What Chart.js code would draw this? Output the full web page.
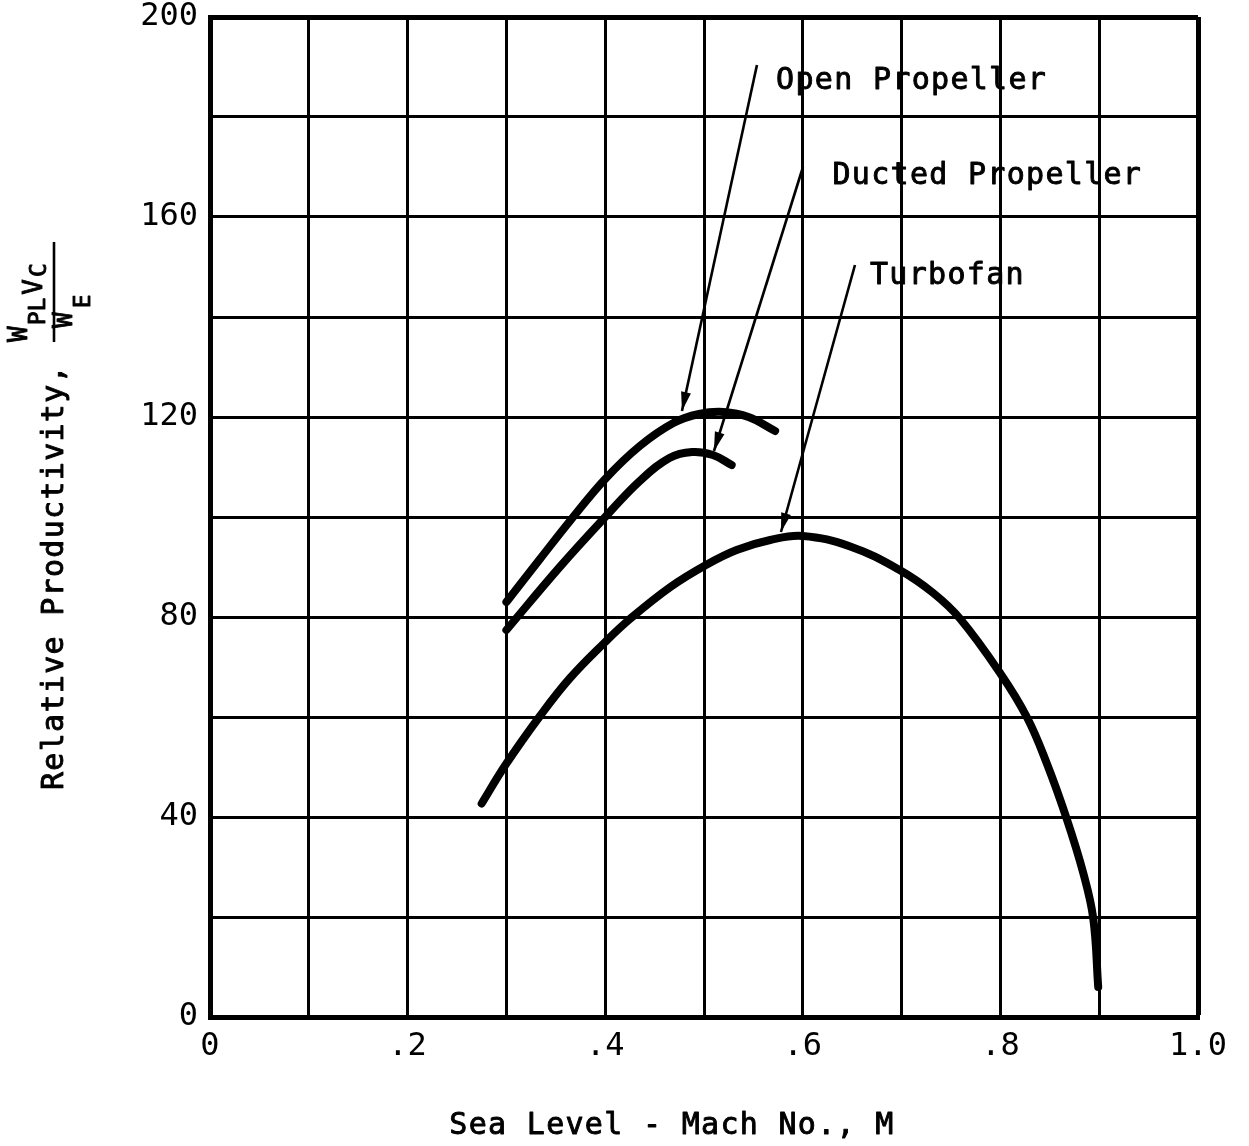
<!DOCTYPE html>
<html>
<head>
<meta charset="utf-8">
<script src="https://cdn.jsdelivr.net/npm/chart.js@4.4.1/dist/chart.umd.min.js"></script>
<style>
  html, body { margin: 0; padding: 0; background: #fff; }
  #wrap { width: 1249px; height: 1146px; }
</style>
</head>
<body>
<div id="wrap"><canvas id="productivity"></canvas></div>
<script>
// values (Mach number vs relative productivity)
var openMach = [0.300, 0.334, 0.366, 0.400, 0.435, 0.469, 0.495, 0.520, 0.545, 0.572];
var openProd = [83.0, 91.6, 99.6, 107.6, 114.2, 118.8, 120.6, 121.0, 120.0, 117.2];

var ductMach = [0.300, 0.354, 0.400, 0.435, 0.465, 0.488, 0.509, 0.528];
var ductProd = [77.4, 90.0, 100.0, 107.2, 111.8, 113.0, 112.4, 110.4];

var turboMach = [0.275, 0.299, 0.334, 0.364, 0.400, 0.425, 0.466, 0.502, 0.533, 0.567, 0.600,
                 0.648, 0.698, 0.732, 0.759, 0.800, 0.827, 0.847, 0.867, 0.884, 0.894, 0.899];
var turboProd = [42.7, 50.4, 60.2, 67.7, 75.0, 79.6, 86.0, 90.4, 93.4, 95.4, 96.2,
                 94.1, 89.4, 84.8, 79.7, 68.7, 59.9, 50.7, 39.7, 28.7, 19.7, 6.0];

// curve labels and their pointer arrows (data units)
var labelText = ['Open Propeller', 'Ducted Propeller', 'Turbofan'];
var labelAt = [[0.573, 185.6], [0.630, 166.6], [0.668, 146.6]];
var arrowFrom = [[0.5536, 190.4], [0.6002, 170.0], [0.6528, 150.4]];
var arrowTo = [[0.4777, 121.2], [0.5101, 113.2], [0.5779, 97.0]];

var xTitle = 'Sea Level - Mach No., M';
var yTitle = 'Relative Productivity,';

var FONT = '"DejaVu Sans Mono", monospace';

function pts(xs, ys) {
  return xs.map(function (x, i) { return { x: x, y: ys[i] }; });
}

function curve(xs, ys) {
  return {
    data: pts(xs, ys),
    borderColor: '#000',
    borderWidth: 8,
    borderCapStyle: 'round',
    borderJoinStyle: 'round',
    pointRadius: 0,
    fill: false,
    tension: 0.4
  };
}

function sized(ctx, px, spacing) {
  ctx.font = px + 'px ' + FONT;
  ctx.letterSpacing = spacing + 'px';
}

// typewriter look: fill plus a thin outline
function ink(ctx, s, x, y) {
  ctx.fillText(s, x, y);
  ctx.strokeText(s, x, y);
}

var extras = {
  id: 'extras',
  afterDraw: function (chart) {
    var ctx = chart.ctx, xs = chart.scales.x, ys = chart.scales.y;
    ctx.save();
    ctx.fillStyle = '#000';
    ctx.strokeStyle = '#000';

    // pointer arrows
    for (var i = 0; i < arrowFrom.length; i++) {
      var x0 = xs.getPixelForValue(arrowFrom[i][0]), y0 = ys.getPixelForValue(arrowFrom[i][1]);
      var x1 = xs.getPixelForValue(arrowTo[i][0]), y1 = ys.getPixelForValue(arrowTo[i][1]);
      var a = Math.atan2(y1 - y0, x1 - x0);
      ctx.lineWidth = 2.6;
      ctx.beginPath();
      ctx.moveTo(x0, y0);
      ctx.lineTo(x1, y1);
      ctx.stroke();
      ctx.beginPath();
      ctx.moveTo(x1, y1);
      ctx.lineTo(x1 - 19 * Math.cos(a) + 5 * Math.sin(a), y1 - 19 * Math.sin(a) - 5 * Math.cos(a));
      ctx.lineTo(x1 - 19 * Math.cos(a) - 5 * Math.sin(a), y1 - 19 * Math.sin(a) + 5 * Math.cos(a));
      ctx.closePath();
      ctx.fill();
    }

    ctx.lineWidth = 0.9;
    ctx.lineJoin = 'round';

    // curve labels
    sized(ctx, 30, 1.3);
    ctx.textAlign = 'left';
    ctx.textBaseline = 'alphabetic';
    for (var j = 0; j < labelText.length; j++) {
      ink(ctx, labelText[j], xs.getPixelForValue(labelAt[j][0]), ys.getPixelForValue(labelAt[j][1]));
    }

    // x title
    sized(ctx, 30, 1.3);
    ctx.textAlign = 'center';
    ink(ctx, xTitle, 672, 1134);

    // y title, rotated, plus the W_PL V_C / W_E fraction
    ctx.save();
    ctx.translate(63, 790);
    ctx.rotate(-Math.PI / 2);
    ctx.textAlign = 'left';
    sized(ctx, 30, 1.3);
    ink(ctx, yTitle, 0, 0);
    // fraction; u runs up the page, v runs to the right
    var u = 448;
    sized(ctx, 26, 0);
    ink(ctx, 'W', u, -36);
    u += ctx.measureText('W').width + 1;
    sized(ctx, 23, 0);
    ink(ctx, 'PL', u, -18);
    u += ctx.measureText('PL').width + 3;
    sized(ctx, 26, 0);
    ink(ctx, 'V', u, -21);
    u += ctx.measureText('V').width + 2;
    sized(ctx, 23, 0);
    ink(ctx, 'C', u, -17);
    ctx.lineWidth = 2.6;
    ctx.beginPath();
    ctx.moveTo(448, -9);
    ctx.lineTo(548, -9);
    ctx.stroke();
    ctx.lineWidth = 0.9;
    sized(ctx, 26, 0);
    ink(ctx, 'W', 462, 9);
    sized(ctx, 23, 0);
    ink(ctx, 'E', 462 + ctx.measureText('W').width + 6, 27);
    ctx.restore();

    ctx.restore();
  }
};

var ctx = document.getElementById('productivity').getContext('2d');
var chart = new Chart(ctx, {
  type: 'line',
  data: {
    datasets: [
      curve(openMach, openProd),
      curve(ductMach, ductProd),
      curve(turboMach, turboProd)
    ]
  },
  options: {
    responsive: true,
    maintainAspectRatio: false,
    animation: false,
    devicePixelRatio: 1,
    layout: { padding: { top: 17, right: 51, left: 0, bottom: 0 } },
    plugins: { legend: { display: false }, tooltip: { enabled: false } },
    scales: {
      x: {
        type: 'linear',
        min: 0,
        max: 1,
        afterFit: function (s) {
          s.height = 129;
          s.paddingLeft = 0;
          s.paddingRight = 0;
        },
        ticks: {
          stepSize: 0.1,
          autoSkip: false,
          maxRotation: 0,
          padding: 10,
          color: '#000',
          font: { family: FONT, size: 32 },
          callback: function (v) {
            var k = Math.round(v * 10);
            if (k % 2) return '';
            if (k === 0) return '0';
            if (k === 10) return '1.0';
            return '.' + k;
          }
        },
        grid: {
          color: '#000',
          drawTicks: false,
          lineWidth: function (c) {
            return c.tick && Math.abs(c.tick.value - 1) < 1e-6 ? 5 : 3;
          }
        },
        border: { display: true, color: '#000', width: 5 }
      },
      y: {
        min: 0,
        max: 200,
        afterFit: function (s) {
          s.width = 210;
          s.paddingTop = 0;
          s.paddingBottom = 0;
        },
        ticks: {
          stepSize: 20,
          autoSkip: false,
          padding: 12,
          color: '#000',
          font: { family: FONT, size: 32 },
          callback: function (v) { return v % 40 === 0 ? String(v) : ''; }
        },
        grid: {
          color: '#000',
          drawTicks: false,
          lineWidth: function (c) {
            return c.tick && c.tick.value === 200 ? 5 : 3;
          }
        },
        border: { display: true, color: '#000', width: 5 }
      }
    }
  },
  plugins: [extras]
});
</script>
</body>
</html>
